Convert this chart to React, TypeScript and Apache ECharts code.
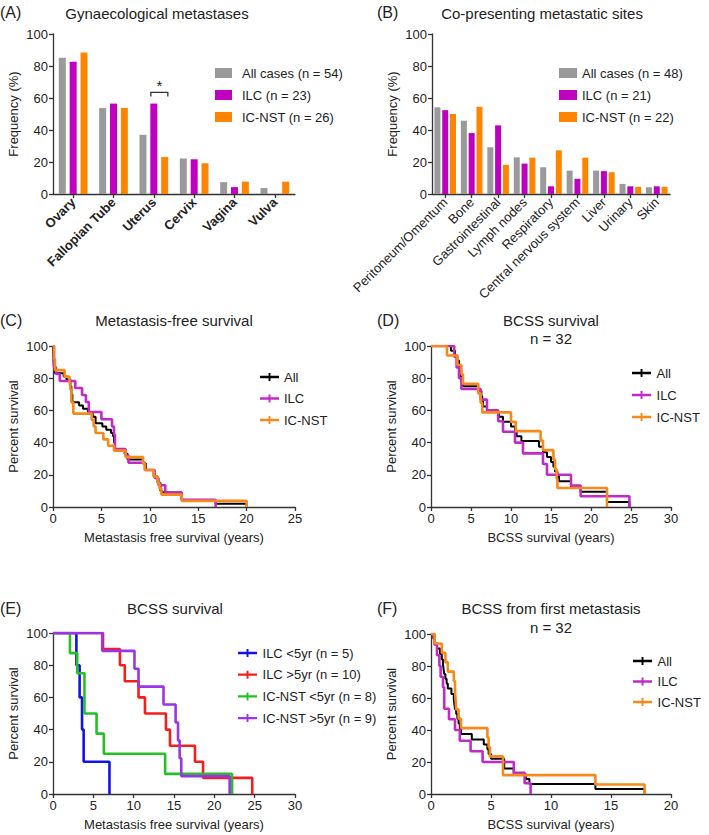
import React, { useEffect, useRef } from 'react';
import * as echarts from 'echarts';

const FONT = "'Liberation Sans', Arial, Helvetica, sans-serif";

// ---- Panel A: gynaecological metastases ----
const gynCategories = ['Ovary', 'Fallopian Tube', 'Uterus', 'Cervix', 'Vagina', 'Vulva'];
const gynAll = [85.2, 53.7, 37.0, 22.2, 7.4, 3.7];
const gynILC = [82.6, 56.5, 56.5, 21.7, 4.3, 0];
const gynNST = [88.5, 53.8, 23.1, 19.2, 7.7, 7.7];
const gynNames = ['All cases (n = 54)', 'ILC (n = 23)', 'IC-NST (n = 26)'];

// ---- Panel B: co-presenting metastatic sites ----
const siteCategories = ['Peritoneum/Omentum', 'Bone', 'Gastrointestinal', 'Lymph nodes', 'Respiratory', 'Central nervous system', 'Liver', 'Urinary', 'Skin'];
const siteAll = [54.2, 45.8, 29.2, 22.9, 16.7, 14.6, 14.6, 6.3, 4.2];
const siteILC = [52.4, 38.1, 42.9, 19.0, 4.8, 9.5, 14.3, 4.8, 4.8];
const siteNST = [50.0, 54.5, 18.2, 22.7, 27.3, 22.7, 13.6, 4.5, 4.5];
const siteNames = ['All cases (n = 48)', 'ILC (n = 21)', 'IC-NST (n = 22)'];

// ---- Panel C: metastasis-free survival [years, %] ----
const cAll = [[0,100],[0.05,92],[0.1,87],[0.2,83],[1.1,81],[1.4,79],[1.8,75],[1.9,70],[2.0,65],[2.7,63],[3.1,61],[3.6,59],[4.1,56],[4.4,52],[5.1,50],[5.5,48],[6.0,46],[6.2,44],[6.3,40],[6.4,35],[7.4,33],[7.7,29.5],[9.3,27],[9.6,23],[10.4,19],[10.8,15],[11.1,10],[11.3,9],[13.3,4],[16.8,2],[20,0]];
const cILC = [[0,100],[0.1,87],[0.3,82.6],[0.7,78.3],[2.3,73.9],[3.0,69.6],[3.4,65.2],[3.7,59],[5.0,54.5],[6.1,50],[6.3,45],[6.4,36],[7.5,32],[7.8,27.5],[9.5,23],[10.5,18],[10.9,13.5],[11.6,9],[13.3,4.5],[16.8,0]];
const cNST = [[0,100],[0.1,92],[0.2,85],[1.2,81],[1.7,77],[1.8,73],[1.9,65],[2.1,58],[4.0,54],[4.2,50],[4.4,46],[5.2,42],[5.7,38],[6.3,35],[7.5,31],[9.3,27],[9.5,23],[10.4,19],[10.8,15],[11.0,11.5],[11.2,7.7],[13.3,3.8],[20,0]];

// ---- Panel D: BCSS survival ----
const dAll = [[0,100],[2.5,97],[3.0,94],[3.3,91],[3.5,87.5],[3.6,84],[3.7,81],[3.8,78],[4.0,75],[5.9,72],[6.3,69],[6.4,66],[6.5,62.5],[7.0,59],[8.5,56],[9.0,53],[10.0,50],[10.5,47],[10.7,44],[11.3,41],[13.5,37.5],[14.0,34],[14.5,31],[15.0,28],[15.3,25],[15.5,22],[15.8,19],[16.0,16],[17.5,12.5],[18.7,9.4],[22.0,3.1],[24.8,0]];
const dILC = [[0,100],[2.9,93.3],[3.2,86.7],[3.5,80],[3.8,73.3],[6.2,66.7],[7.0,60],[8.4,53.3],[9.0,46.7],[10.5,40],[11.5,33.3],[14.0,26.7],[14.5,20],[17.5,13.3],[18.7,6.7],[24.8,0]];
const dNST = [[0,100],[2.0,94.1],[3.3,88.2],[3.8,82.4],[4.0,76.5],[5.9,70.6],[6.2,64.7],[6.4,58.8],[10.0,52.9],[10.6,47.1],[13.7,41.2],[14.0,35.3],[15.3,29.4],[15.5,23.5],[15.7,17.6],[15.8,11.8],[22.0,0]];

// ---- Panel E: BCSS survival by subgroup ----
const eILCshort = [[0,100],[2.9,80],[3.3,60],[3.6,40],[3.8,20],[7.0,0]];
const eILClong = [[0,100],[6.2,90],[8.3,80],[8.9,70],[10.6,60],[11.4,50],[14.0,40],[14.5,30],[17.6,20],[18.6,10],[24.7,0]];
const eNSTshort = [[0,100],[2.1,87.5],[3.0,75],[3.9,50],[5.4,37.5],[6.3,25],[13.9,12.5],[22.2,0]];
const eNSTlong = [[0,100],[6.1,88.9],[10.1,77.8],[10.6,66.7],[13.7,55.6],[15.2,44.4],[15.5,33.3],[15.7,22.2],[15.9,11.1],[21.9,0]];
const eNames = ['ILC <5yr (n = 5)', 'ILC >5yr (n = 10)', 'IC-NST <5yr (n = 8)', 'IC-NST >5yr (n = 9)'];

// ---- Panel F: BCSS from first metastasis ----
const fAll = [[0,100],[0.2,97],[0.3,94],[0.5,91],[0.75,87.5],[0.9,84],[1.0,81],[1.05,78],[1.1,75],[1.2,72],[1.3,69],[1.4,66],[1.7,62.5],[1.9,59],[1.95,56],[2.0,53],[2.1,50],[2.2,47],[2.3,44],[2.4,41],[2.5,37.5],[3.4,34],[4.4,31],[4.7,28],[4.8,25],[5.0,22],[6.1,16],[6.9,12.5],[7.9,9.4],[8.2,6.25],[13.7,3.1],[17.8,0]];
const fILC = [[0,100],[0.3,93.3],[0.5,86.7],[0.7,80],[0.8,73.3],[1.0,66.7],[1.1,53.3],[1.5,46.7],[2.0,40],[2.4,33.3],[3.3,26.7],[4.3,20],[6.9,13.3],[7.8,6.7],[8.3,0]];
const fNST = [[0,100],[0.3,94.1],[0.9,88.2],[1.2,82.4],[1.4,76.5],[1.9,70.6],[2.0,64.7],[2.05,58.8],[2.1,52.9],[2.3,47.1],[2.5,41.2],[4.7,35.3],[4.8,29.4],[4.9,23.5],[6.0,11.8],[13.7,5.9],[17.8,0]];

const kmNames = ['All', 'ILC', 'IC-NST'];

const GRAY = '#9a9a9a';
const MAG = '#bf00bf';
const ORA = '#ff8400';
const KM_MAG = '#c22ac8';
const KM_ORA = '#f7891a';
const BLUE = '#1212ea';
const RED = '#f51c1c';
const GREEN = '#26c026';
const PURPLE = '#9a34e6';
const AXC = '#333';
const TXT = '#222';

const LINE_ICON = 'path://M0,3h20v2.4H0z M9,0h2v8.4H9z';

function barAxisX(cats: string[], bold: boolean) {
  return {
    type: 'category',
    data: cats,
    axisLine: { show: true, lineStyle: { color: AXC, width: 1.3 } },
    axisTick: { show: true, alignWithLabel: true, length: 4, lineStyle: { color: AXC, width: 1.3 } },
    axisLabel: { rotate: 45, interval: 0, margin: 6, fontSize: 13, color: TXT, fontWeight: bold ? 'bold' : 'normal', fontFamily: FONT },
  };
}

function valAxisY(gridIndex: number, name: string) {
  return {
    type: 'value', gridIndex, min: 0, max: 100, interval: 20,
    name, nameLocation: 'middle', nameGap: 33,
    nameTextStyle: { fontSize: 13, color: TXT, fontFamily: FONT },
    axisLine: { show: true, onZero: false, lineStyle: { color: AXC, width: 1.3 } },
    axisTick: { show: true, length: 4, lineStyle: { color: AXC, width: 1.3 } },
    axisLabel: { fontSize: 13, color: TXT, margin: 5, fontFamily: FONT },
    splitLine: { show: false },
  };
}

function valAxisX(gridIndex: number, max: number, name: string) {
  return {
    type: 'value', gridIndex, min: 0, max, interval: 5,
    name, nameLocation: 'middle', nameGap: 24,
    nameTextStyle: { fontSize: 13, color: TXT, fontFamily: FONT },
    axisLine: { show: true, onZero: false, lineStyle: { color: AXC, width: 1.3 } },
    axisTick: { show: true, length: 4, lineStyle: { color: AXC, width: 1.3 } },
    axisLabel: { fontSize: 13, color: TXT, margin: 5, fontFamily: FONT },
    splitLine: { show: false },
  };
}

function bar(name: string, data: number[], color: string, axis: number, width: number, gap: string) {
  return {
    type: 'bar', name, data, xAxisIndex: axis, yAxisIndex: axis,
    barWidth: width, barGap: gap, itemStyle: { color }, animation: false,
  };
}

function km(name: string, data: number[][], color: string, width: number, axis: number, z: number) {
  return {
    type: 'line', name, data, step: 'end', symbol: 'none', showSymbol: false,
    xAxisIndex: axis, yAxisIndex: axis, z,
    lineStyle: { color, width }, itemStyle: { color }, animation: false,
  };
}

function legend(names: string[], left: number, top: number, gap: number, icon: string, iw: number, ih: number, pad: number) {
  return {
    data: names, left, top, orient: 'vertical', itemGap: gap, icon,
    itemWidth: iw, itemHeight: ih, selectedMode: false,
    textStyle: { fontSize: 13, color: TXT, lineHeight: 14, fontFamily: FONT, padding: [0, 0, 0, pad] },
  };
}

function txt(text: string, x: number, y: number, align: string, size = 15) {
  return {
    type: 'text', x, y, silent: true,
    style: { text, fontSize: size, fontFamily: FONT, fill: TXT, align, verticalAlign: 'middle' },
  };
}

const baseGraphics = [
  txt('(A)', 0, 12, 'left', 16),
  txt('Gynaecological metastases', 157, 13, 'center'),
  txt('(B)', 377, 12, 'left', 16),
  txt('Co-presenting metastatic sites', 542, 13, 'center'),
  txt('(C)', 0, 320, 'left', 16),
  txt('Metastasis-free survival', 174, 320, 'center'),
  txt('(D)', 377, 320, 'left', 16),
  txt('BCSS survival', 551, 320, 'center'),
  txt('n = 32', 551, 338, 'center'),
  txt('(E)', 0, 608, 'left', 16),
  txt('BCSS survival', 175, 608, 'center'),
  txt('(F)', 377, 608, 'left', 16),
  txt('BCSS from first metastasis', 551, 608, 'center'),
  txt('n = 32', 551, 627, 'center'),
];

export default function App() {
  const ref = useRef<HTMLDivElement>(null);
  useEffect(() => {
    if (!ref.current) return;
    const chart = echarts.init(ref.current, undefined, { renderer: 'svg' });
    const option: any = {
      animation: false,
      backgroundColor: '#ffffff',
      textStyle: { fontFamily: FONT },
      grid: [
        { left: 53, top: 34, width: 242, height: 160 },
        { left: 432, top: 34, width: 238, height: 160 },
        { left: 53, top: 346, width: 242, height: 161 },
        { left: 431, top: 346, width: 240, height: 161 },
        { left: 53, top: 633, width: 242, height: 161 },
        { left: 431, top: 634, width: 240, height: 160 },
      ],
      xAxis: [
        { ...barAxisX(gynCategories, true), gridIndex: 0 },
        { ...barAxisX(siteCategories, false), gridIndex: 1 },
        valAxisX(2, 25, 'Metastasis free survival (years)'),
        valAxisX(3, 30, 'BCSS survival (years)'),
        valAxisX(4, 30, 'Metastasis free survival (years)'),
        valAxisX(5, 20, 'BCSS survival (years)'),
      ],
      yAxis: [
        valAxisY(0, 'Frequency (%)'),
        valAxisY(1, 'Frequency (%)'),
        valAxisY(2, 'Percent survival'),
        valAxisY(3, 'Percent survival'),
        valAxisY(4, 'Percent survival'),
        valAxisY(5, 'Percent survival'),
      ],
      legend: [
        legend(gynNames, 210, 61, 8, 'rect', 17, 10, 5),
        legend(siteNames, 554, 61, 8, 'rect', 18, 10, 0),
        legend(kmNames, 255, 365, 7.5, LINE_ICON, 19, 8, 0),
        legend(kmNames, 627, 361, 8, LINE_ICON, 20, 8, 0),
        legend(eNames, 233, 641, 7.7, LINE_ICON, 20, 8, 0),
        legend(kmNames, 628, 649, 6.5, LINE_ICON, 20, 8, 0),
      ],
      series: [
        bar(gynNames[0], gynAll, GRAY, 0, 7, '55%'),
        bar(gynNames[1], gynILC, MAG, 0, 7, '55%'),
        bar(gynNames[2], gynNST, ORA, 0, 7, '55%'),
        bar(siteNames[0], siteAll, GRAY, 1, 6, '30%'),
        bar(siteNames[1], siteILC, MAG, 1, 6, '30%'),
        bar(siteNames[2], siteNST, ORA, 1, 6, '30%'),
        km('All', cAll, '#000', 2, 2, 3),
        km('ILC', cILC, KM_MAG, 2.6, 2, 4),
        km('IC-NST', cNST, KM_ORA, 2.6, 2, 5),
        km('All', dAll, '#000', 2, 3, 3),
        km('ILC', dILC, KM_MAG, 2.6, 3, 4),
        km('IC-NST', dNST, KM_ORA, 2.6, 3, 5),
        km(eNames[0], eILCshort, BLUE, 2.6, 4, 3),
        km(eNames[1], eILClong, RED, 2.6, 4, 4),
        km(eNames[2], eNSTshort, GREEN, 2.6, 4, 5),
        km(eNames[3], eNSTlong, PURPLE, 2.6, 4, 6),
        km('All', fAll, '#000', 2, 5, 3),
        km('ILC', fILC, KM_MAG, 2.6, 5, 4),
        km('IC-NST', fNST, KM_ORA, 2.6, 5, 5),
      ],
      graphic: baseGraphics,
    };
    chart.setOption(option);

    // significance bracket over Uterus (ILC vs IC-NST)
    const p = chart.convertToPixel({ gridIndex: 0 } as any, ['Uterus', 63.5]) as number[];
    const pLow = chart.convertToPixel({ gridIndex: 0 } as any, ['Uterus', 61]) as number[];
    if (p && pLow) {
      const x0 = p[0] - 3;
      const x1 = p[0] + 14;
      const bracket = {
        type: 'polyline', silent: true,
        shape: { points: [[x0, pLow[1]], [x0, p[1]], [x1, p[1]], [x1, pLow[1]]] },
        style: { stroke: '#333', lineWidth: 1.3, fill: null },
      };
      const star = txt('*', (x0 + x1) / 2, p[1] - 7, 'center', 15);
      chart.setOption({ graphic: [...baseGraphics, bracket, star] });
    }
    return () => chart.dispose();
  }, []);
  return <div ref={ref} style={{ position: 'absolute', left: 0, top: 0, width: 709, height: 835 }} />;
}
